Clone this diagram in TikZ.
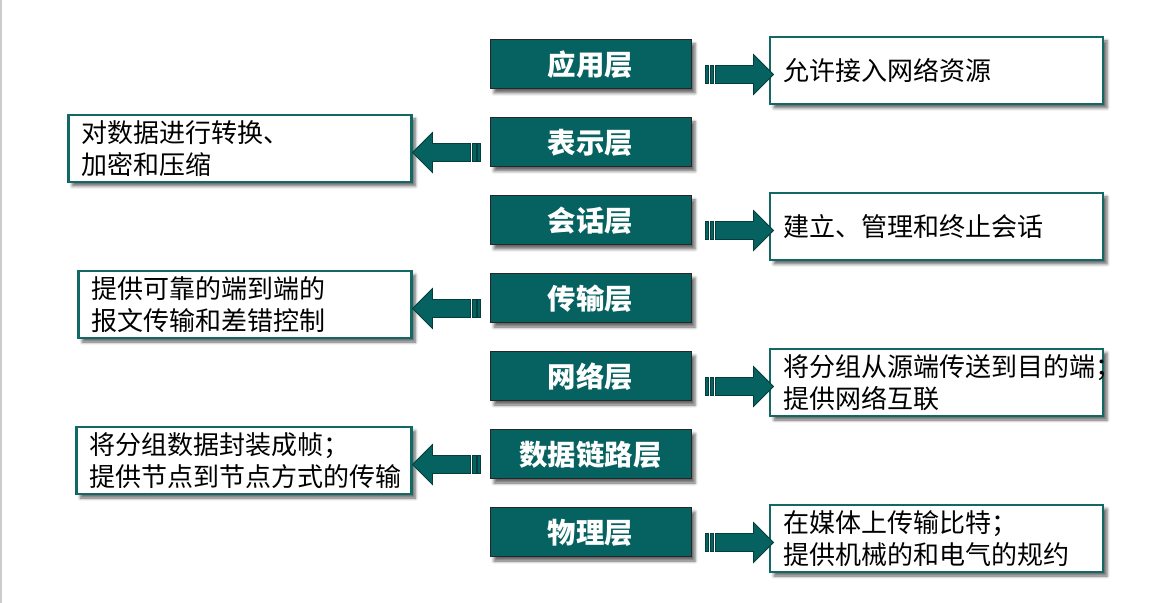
\documentclass[tikz,border=0pt]{standalone}
\usepackage{fontspec}
\newfontfamily\cjk{Noto Sans CJK SC}
\usepackage{tikz}
\usetikzlibrary{shadows.blur}

\definecolor{layerteal}{RGB}{6,98,96}
\definecolor{boxteal}{RGB}{18,104,100}
\definecolor{arrowline}{RGB}{4,62,60}

\begin{document}
\begin{tikzpicture}[x=0.5pt,y=-0.5pt]

	\tikzstyle layer box=[draw=black!85, line width=0.5pt, fill=layerteal, text=white, font=\cjk\bfseries\fontsize{14.2}{16}\selectfont, minimum width=100.5pt, minimum height=24.5pt, inner sep=0pt, blur shadow={shadow xshift=2pt, shadow yshift=-2pt, shadow blur radius=1.5pt, shadow opacity=60}];
	\tikzstyle desc box=[draw=boxteal, line width=1.2pt, fill=white, text=black, font=\cjk\fontsize{13}{16}\selectfont, align=left, inner xsep=6.5pt, inner ysep=0pt, minimum height=33.5pt, blur shadow={shadow xshift=2pt, shadow yshift=-2pt, shadow blur radius=1.5pt, shadow opacity=60}];
	\tikzstyle arrow body=[fill=layerteal, draw=arrowline, line width=0.4pt];

	\useasboundingbox (0,0) rectangle (1172,603);
	\draw[black!20, line width=1pt] (1,0) -- (1,603);

	% the seven layers
	\foreach \n/\label in {1/应用层,2/表示层,3/会话层,4/传输层,5/网络层,6/数据链路层,7/物理层}
		\node[layer box] (L\n) at (590.5,{64.5+78*(\n-1)}) {\label};

	% what each layer does, right side
	\foreach \n/\txt in {1/{允许接入网络资源},3/{建立、管理和终止会话},5/{将分组从源端传送到目的端；\\提供网络互联},7/{在媒体上传输比特；\\提供机械的和电气的规约}}
		\node[desc box, text width=153.5pt] (D\n) at (936.5,{70.5+78*(\n-1)}) {\txt};

	% left side
	\foreach \n/\w/\txt in {2/158.5/{对数据进行转换、\\加密和压缩},4/153.5/{提供可靠的端到端的\\报文传输和差错控制},6/154.5/{将分组数据封装成帧；\\提供节点到节点方式的传输}}
		\node[desc box, anchor=east, text width=\w pt] (D\n) at (412.5,{70.5+78*(\n-1)}) {\txt};

	% striped arrows
	\foreach \n in {1,3,5,7} {
		\begin{scope}[shift={([xshift=7pt,yshift=-5pt]L\n.east)}]
			\draw[arrow body] (0,-9) rectangle (3,9);
			\draw[arrow body] (4.5,-9) rectangle (8,9);
			\draw[arrow body] (10,-9) -- (48,-9) -- (48,-20) -- (68,0) -- (48,20) -- (48,9) -- (10,9) -- cycle;
		\end{scope}
	}
	\foreach \n in {2,4,6} {
		\begin{scope}[shift={([xshift=-4.5pt,yshift=-5pt]L\n.west)}, xscale=-1]
			\draw[arrow body] (0,-9) rectangle (3,9);
			\draw[arrow body] (4.5,-9) rectangle (8,9);
			\draw[arrow body] (10,-9) -- (48,-9) -- (48,-20) -- (68,0) -- (48,20) -- (48,9) -- (10,9) -- cycle;
		\end{scope}
	}

\end{tikzpicture}
\end{document}
